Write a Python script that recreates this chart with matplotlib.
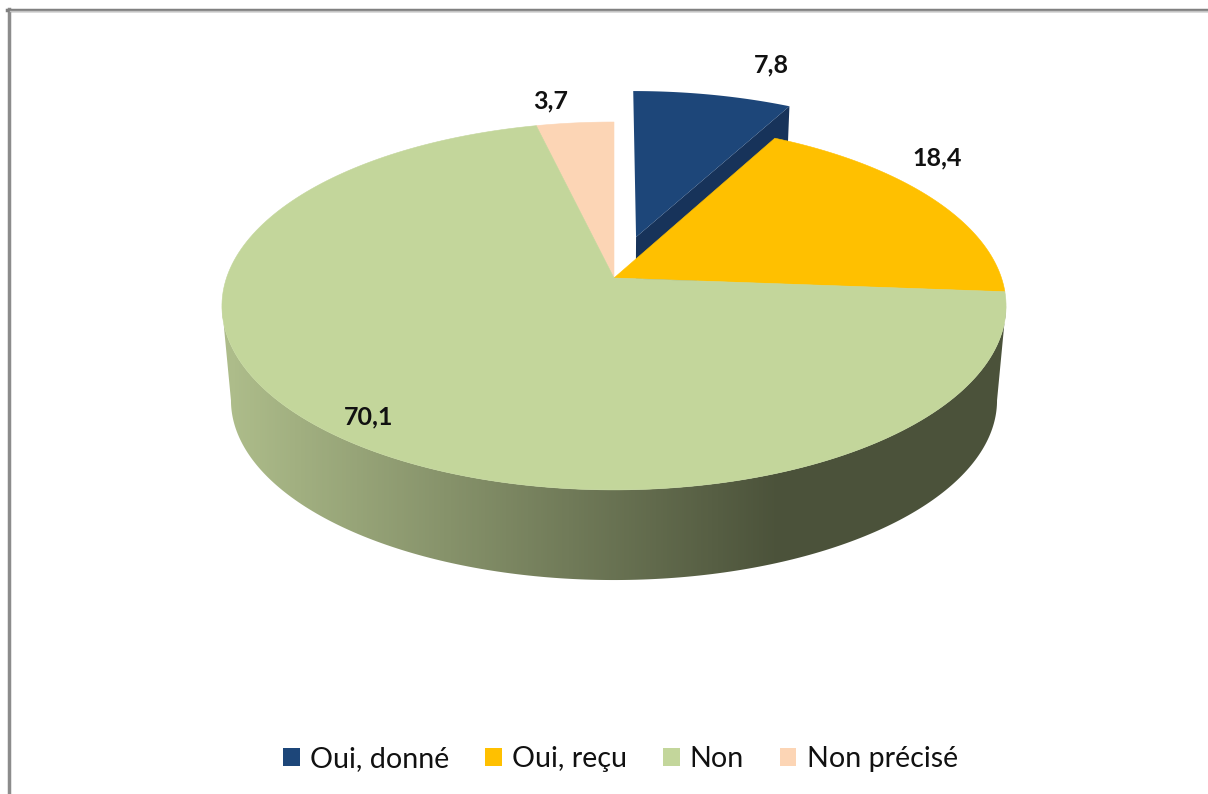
from matplotlib import pyplot as plt
from matplotlib.colors import LinearSegmentedColormap
from matplotlib.patches import Patch, Polygon
import numpy as np

plt.rcParams['font.family'] = ['Lato', 'DejaVu Sans']

# values
categories = ["Oui, donné", "Oui, reçu", "Non", "Non précisé"]
values = [7.8, 18.4, 70.1, 3.7]
value_labels = ["7,8", "18,4", "70,1", "3,7"]
colors = ["#1D4679", "#FFC000", "#C3D69B", "#FCD5B5"]
dark_blue = "#17335A"
label_pos = [(771, 65), (937, 158), (369, 417), (551, 101)]

# perspective of the 3d pie, in pixels
cx, cy = 614, 278
a, b, k = 387.5, 179.7, 0.152
depth = 95
shrink = 0.977
explode = 0.243


def project(u, v, lower=False):
    s = shrink if lower else 1
    d = depth if lower else 0
    w = 1 + k * v
    return cx + s * a * u / w, cy + d - s * b * v / w


def rim(start, end, du=0, dv=0, lower=False):
    t = np.radians(np.linspace(start, end, 200))
    x, y = project(np.sin(t) + du, np.cos(t) + dv, lower)
    return np.column_stack([x, y])


fig = plt.figure(figsize=(12.08, 7.94), dpi=100)
ax = fig.add_axes([0, 0, 1, 1])
ax.axis('off')

edges = np.cumsum([0] + values) / sum(values) * 360

# side of the green slice, between the two outermost points of the rim
turn = np.degrees(np.arcsin(k))
side = np.vstack([rim(90 + turn, 270 - turn), rim(90 + turn, 270 - turn, lower=True)[::-1]])
shade = LinearSegmentedColormap.from_list('side', ["#ADBC8A", "#4B523A"])
grad = np.clip((np.arange(1208) - 232) / (780 - 232), 0, 1).reshape(1, -1)
img = ax.imshow(grad, cmap=shade, aspect='auto', extent=(0, 1208, 794, 0), zorder=1)
img.set_clip_path(Polygon(side, transform=ax.transData))

# exploded blue slice
mid = np.radians((edges[0] + edges[1]) / 2)
du, dv = explode * np.sin(mid), explode * np.cos(mid)
apex_top = np.array(project(du, dv))
apex_low = np.array(project(du, dv, lower=True))
top_arc = rim(edges[0], edges[1], du, dv)
low_arc = rim(edges[0], edges[1], du, dv, lower=True)
ax.add_patch(Polygon([apex_top, top_arc[-1], low_arc[-1], apex_low], fc=dark_blue, ec='none', zorder=2))
ax.add_patch(Polygon(np.vstack([apex_top, top_arc]), fc=colors[0], ec='none', zorder=3))

# other slices
for i in [3, 1, 2]:
    pts = np.vstack([[cx, cy], rim(edges[i], edges[i + 1])])
    ax.add_patch(Polygon(pts, fc=colors[i], ec=colors[i], lw=0.4, zorder=4))

for txt, (x, y) in zip(value_labels, label_pos):
    ax.text(x, y, txt, ha='center', va='center', fontsize=18, fontweight='bold', color='#111111', zorder=5)

# frame of the chart area
ax.plot([8.5, 8.5], [9, 794], color='#8c8c8c', lw=2.5, zorder=6)
ax.plot([7, 1208], [9.5, 9.5], color='#808080', lw=2.5, zorder=6)
ax.plot([10, 1208], [11.2, 11.2], color='#c4c4c4', lw=1, zorder=6)

ax.set_xlim(0, 1208)
ax.set_ylim(794, 0)

handles = [Patch(fc=c, ec='none') for c in colors]
ax.legend(handles, categories, ncol=4, frameon=False, fontsize=20.6, loc='center',
          bbox_to_anchor=(620.5 / 1208, 1 - 759 / 794), handlelength=0.59, handleheight=0.59,
          handletextpad=0.36, columnspacing=1.24, labelcolor='#111111')

plt.savefig('out.png', dpi=100)
